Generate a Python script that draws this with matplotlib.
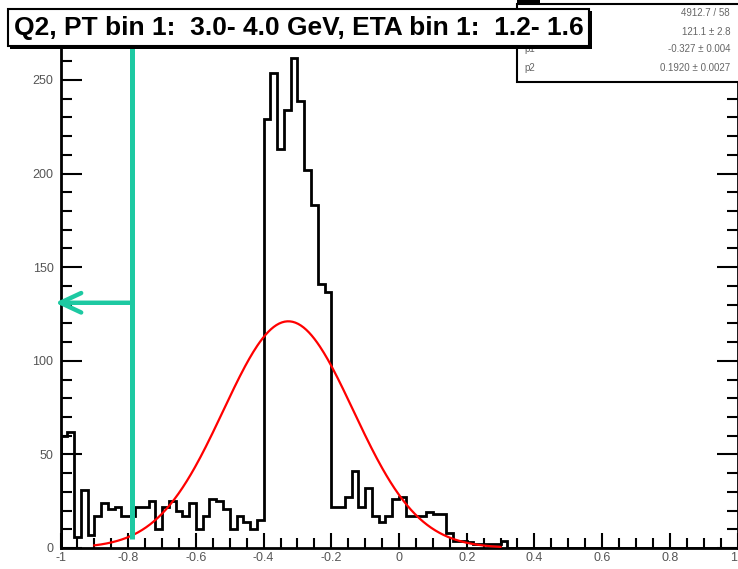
import matplotlib.pyplot as plt
import numpy as np
from matplotlib.patches import Rectangle
from matplotlib.ticker import MultipleLocator, FuncFormatter

# Histogram: 100 bins of 0.02 on [-1, 1], counts.
bin_lo, bin_hi, n_bins = -1.0, 1.0, 100
counts = [60, 62, 6, 31, 7, 17, 24, 21, 22, 17,
          17, 22, 22, 25, 10, 22, 25, 20, 17, 24,
          10, 17, 26, 25, 21, 10, 17, 14, 10, 15,
          229, 254, 213, 234, 262, 239, 202, 183, 141, 137,
          22, 22, 27, 41, 22, 32, 17, 14, 17, 26,
          27, 17, 17, 17, 19, 18, 18, 8, 4, 4,
          3, 2, 2, 2, 2, 4] + [0] * 34

# Gaussian fit (from the stats box) and its range.
fit_const, fit_mean, fit_sigma = 121.1, -0.327, 0.192
fit_lo, fit_hi = -0.90, 0.30

# first two row names sit behind the title box in the reference
stat_labels = ["", "", "p1", "p2"]
stat_values = ["4912.7 / 58", "121.1 \u00b1 2.8", "-0.327 \u00b1 0.004", "0.1920 \u00b1 0.0027"]

title = "Q2, PT bin 1:  3.0- 4.0 GeV, ETA bin 1:  1.2- 1.6"

# hand-drawn cut marker
cut_x = -0.789
cut_bottom = 4.6
arrow_y = 131
arrow_tip_x = -1.016

teal = "#1dc9a2"
W, H = 738, 569

fig = plt.figure(figsize=(W / 100, H / 100), dpi=100)
plt.rcParams['font.family'] = ['Liberation Sans', 'DejaVu Sans']

# axes placed in pixels
ax_l, ax_r, ax_t, ax_b = 60.5, 737.5, 47, 548
ax = fig.add_axes([ax_l / W, 1 - ax_b / H, (ax_r - ax_l) / W, (ax_b - ax_t) / H])
ax.set_xlim(bin_lo, bin_hi)
ax.set_ylim(0, (ax_b - ax_t) / 1.872)

edges = np.linspace(bin_lo, bin_hi, n_bins + 1)
ax.stairs(counts, edges, color="black", lw=2, zorder=3)

xf = np.linspace(fit_lo, fit_hi, 300)
yf = fit_const * np.exp(-0.5 * ((xf - fit_mean) / fit_sigma) ** 2)
ax.plot(xf, yf, color="red", lw=1.6, zorder=4)


def xfmt(v, p):
    if abs(v) < 1e-9:
        return "0"
    if v > 0.99:
        return ""  # drawn separately so it stays inside the picture
    return f"{v:g}"


# ticks, ROOT style
ax.xaxis.set_major_locator(MultipleLocator(0.2))
ax.xaxis.set_minor_locator(MultipleLocator(0.05))
ax.yaxis.set_major_locator(MultipleLocator(50))
ax.yaxis.set_minor_locator(MultipleLocator(10))
ax.xaxis.set_major_formatter(FuncFormatter(xfmt))
ax.tick_params(axis="x", which="major", direction="in", length=11, width=1.5,
               labelsize=9, labelcolor="#555555", pad=3, top=False)
ax.tick_params(axis="x", which="minor", direction="in", length=7, width=1.5, top=False)
ax.tick_params(axis="y", which="major", direction="in", length=15, width=1.5,
               labelsize=9, labelcolor="#555555", pad=5, right=True)
ax.tick_params(axis="y", which="minor", direction="in", length=8, width=1.5, right=True)
for s in ax.spines.values():
    s.set_linewidth(2)
ax.text(bin_hi, -0.0085, "1", transform=ax.get_xaxis_transform(), ha="right", va="top",
        fontsize=9, color="#555555", clip_on=False)

# cut line and arrow
ax.vlines(cut_x, cut_bottom, ax.get_ylim()[1], color=teal, lw=3.6, zorder=6, clip_on=False)
ax.annotate("", xy=(arrow_tip_x, arrow_y), xytext=(cut_x, arrow_y),
            arrowprops=dict(arrowstyle="->,head_length=1.5,head_width=0.7", color=teal,
                            lw=3.2, shrinkA=0, shrinkB=0, mutation_scale=10),
            annotation_clip=False, zorder=6)


def fx(x):
    return x / W


def fy(y):
    return 1 - y / H


# stats box
fig.patches.append(Rectangle((fx(517), fy(82)), fx(740) - fx(517), fy(4) - fy(82),
                             transform=fig.transFigure, facecolor="white",
                             edgecolor="black", lw=1.5, zorder=5))
fig.patches.append(Rectangle((fx(517), fy(5)), fx(540) - fx(517), fy(0) - fy(5),
                             transform=fig.transFigure, facecolor="black",
                             edgecolor="none", zorder=5))
row_y = [12.7, 31.7, 49.3, 68.3]
for lab, val, y in zip(stat_labels, stat_values, row_y):
    if lab:
        fig.text(fx(524), fy(y), lab, fontsize=7, color="#666666", va="center", ha="left", zorder=6)
    fig.text(fx(730), fy(y), val, fontsize=7, color="#666666", va="center", ha="right", zorder=6)

# title box with shadow
fig.patches.append(Rectangle((fx(10), fy(49)), fx(592) - fx(10), fy(11) - fy(49),
                             transform=fig.transFigure, facecolor="black",
                             edgecolor="none", zorder=9))
fig.patches.append(Rectangle((fx(8), fy(46)), fx(589) - fx(8), fy(9) - fy(46),
                             transform=fig.transFigure, facecolor="white",
                             edgecolor="black", lw=1.5, zorder=10))
fig.text(fx(298.5), fy(28), title, fontsize=19, fontweight="bold", ha="center",
         va="center", zorder=11)

fig.savefig("out.png", dpi=100)
